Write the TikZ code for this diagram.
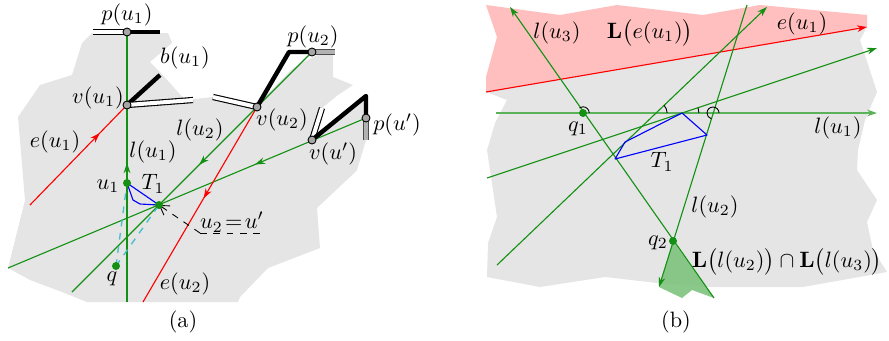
\documentclass[tikz,border=0pt]{standalone}
\usepackage{amsmath}
\usepackage{amssymb}
\usetikzlibrary{arrows.meta,decorations.markings}
\definecolor{lgreen}{RGB}{20,145,20}
\definecolor{dashcyan}{RGB}{70,190,205}

\begin{document}
\begin{tikzpicture}[
  x=0.45pt, y=-0.45pt,
  line join=round,
  ln/.style={lgreen, line width=0.5pt},
  rd/.style={red, line width=0.5pt},
  midarr/.style={postaction={decorate}, decoration={markings,
      mark=at position #1 with {\arrow{Stealth[length=4.5pt,width=3pt]}}}},
  endarr/.style={-{Stealth[length=4.5pt,width=3pt]}},
  wbar/.style={draw=black, line width=0.5pt, double=white, double distance=1.8pt},
  bbar/.style={black, line width=2pt},
  gbar/.style={draw=black!70, line width=0.5pt, double=gray!60, double distance=1.8pt},
  vtx/.style={circle, fill=gray!70, draw=black, line width=0.4pt, inner sep=0pt, minimum size=3.6pt},
  pt/.style={circle, fill=lgreen, inner sep=0pt, minimum size=3.6pt},
  angmark/.style={black, line width=0.4pt}
]
\useasboundingbox (0,0) rectangle (889,340);

% (a)
\fill[gray!20] (92,33) -- (168,33) -- (172,43) -- (150,62) -- (160,72) -- (185,100)
  -- (213,97) -- (257,105) -- (293,68) -- (317,55) -- (333,55) -- (333,77) -- (353,85)
  -- (338,95) -- (322,108) -- (313,140) -- (365,97) -- (366,140) -- (357,170) -- (350,177)
  -- (317,208) -- (320,248) -- (268,268) -- (240,297) -- (238,302) -- (87,302) -- (62,292)
  -- (30,280) -- (8,268) -- (25,200) -- (18,117) -- (40,85) -- (72,75) -- (82,43) -- cycle;

\coordinate (pu1)  at (127,32);
\coordinate (pu1l) at (93,32);
\coordinate (pu1r) at (160,32);
\coordinate (vu1)  at (127,105);
\coordinate (bu1)  at (160,75);
\coordinate (wu1)  at (193,100);
\coordinate (eu1s) at (30,205);
\coordinate (vu2)  at (257,107);
\coordinate (wu2)  at (213,97);
\coordinate (ku2)  at (289,52);
\coordinate (pu2)  at (312,52);
\coordinate (pu2r) at (335,52);
\coordinate (vup)  at (312,140);
\coordinate (wup)  at (322,108);
\coordinate (kup)  at (366,96);
\coordinate (pup)  at (366,118);
\coordinate (pupd) at (366,140);
\coordinate (u1)   at (127,183);
\coordinate (t1)   at (159,205);
\coordinate (t1a)  at (133,200);
\coordinate (t1b)  at (140,204);
\coordinate (q)    at (116,266);
\coordinate (lu1e) at (127,302);
\coordinate (lu1m) at (127,163);
\coordinate (lu2e) at (72,292);
\coordinate (eu2e) at (143,302);
\coordinate (lupe) at (8,268);
\coordinate (dsh)  at (200,233);
\coordinate (dshe) at (265,233);

\draw[ln] (pu1) -- (lu1e);
\draw[lgreen, line width=0.9pt, endarr] (lu1e) -- (lu1m);
\draw[ln, midarr=0.47] (pu2) -- (lu2e);
\draw[ln, midarr=0.31] (pup) -- (lupe);
\draw[rd, midarr=0.72] (eu1s) -- (vu1);
\draw[rd, midarr=0.47] (vu2) -- (eu2e);

\draw[blue, line width=0.5pt] (u1) -- (t1a) -- (t1b) -- (t1) -- cycle;
\draw[dashcyan, dashed, line width=0.6pt] (q) -- (u1);
\draw[dashcyan, dashed, line width=0.6pt] (q) -- (t1);
\draw[dashed, line width=0.4pt, -{Straight Barb[length=4pt,width=5pt]}] (dsh) -- (t1);
\draw[dashed, line width=0.4pt] (dsh) -- (dshe);

\draw[wbar] (pu1l) -- (pu1);
\draw[bbar] (pu1) -- (pu1r);
\draw[bbar] (vu1) -- (bu1);
\draw[wbar] (vu1) -- (wu1);
\draw[wbar] (wu2) -- (vu2);
\draw[bbar] (vu2) -- (ku2) -- (pu2);
\draw[gbar] (pu2) -- (pu2r);
\draw[wbar] (vup) -- (wup);
\draw[bbar] (vup) -- (kup) -- (pup);
\draw[gbar] (pup) -- (pupd);

\node[vtx] (pu1dot) at (pu1) {};
\node[vtx] (vu1dot) at (vu1) {};
\node[vtx] (vu2dot) at (vu2) {};
\node[vtx] (pu2dot) at (pu2) {};
\node[vtx] (vupdot) at (vup) {};
\node[vtx] (pupdot) at (pup) {};
\node[pt] (u1dot) at (u1) {};
\node[pt] (t1dot) at (t1) {};
\node[pt] (qdot) at (q) {};

\node (pu1lbl) at (127,15)  {$p(u_1)$};
\node (bu1lbl) at (185,58)  {$b(u_1)$};
\node (vu1lbl) at (98,98)   {$v(u_1)$};
\node (eu1lbl) at (55,142)  {$e(u_1)$};
\node (lu1lbl) at (153,152) {$l(u_1)$};
\node (lu2lbl) at (200,130) {$l(u_2)$};
\node (pu2lbl) at (313,37)  {$p(u_2)$};
\node (vu2lbl) at (282,120) {$v(u_2)$};
\node (vuplbl) at (333,154) {$v(u')$};
\node (puplbl) at (397,125) {$p(u')$};
\node (u1lbl)  at (108,186) {$u_1$};
\node (t1lbl)  at (153,184) {$T_1$};
\node (u2lbl)  at (232,222) {$u_2\!=\!u'$};
\node (qlbl)   at (112,279) {$q$};
\node (eu2lbl) at (185,284) {$e(u_2)$};
\node (alabel) at (183,322) {(a)};

% (b)
\fill[gray!20] (486,92) -- (867,27) -- (860,40) -- (877,92) -- (865,120) -- (858,150)
  -- (857,170) -- (877,200) -- (867,222) -- (873,250) -- (887,272) -- (803,287)
  -- (710,287) -- (657,283) -- (605,277) -- (540,287) -- (487,277) -- (488,243)
  -- (497,217) -- (487,150) -- (488,147) -- (495,123) -- (507,100) -- cycle;
\fill[red!25] (486,5) -- (560,15) -- (617,5) -- (703,15) -- (760,5) -- (867,15)
  -- (867,27) -- (486,92) -- (486,77) -- (497,37) -- cycle;

\coordinate (be1s) at (486,92);
\coordinate (be1e) at (867,27);
\coordinate (bl1s) at (496,113);
\coordinate (bl1e) at (877,113);
\coordinate (bq1)  at (583,113);
\coordinate (bq2)  at (673,241);
\coordinate (bl3s) at (714,298);
\coordinate (bl3e) at (510,7);
\coordinate (bl2s) at (747,5);
\coordinate (bl2e) at (659,287);
\coordinate (bas)  at (487,178);
\coordinate (bae)  at (877,48);
\coordinate (bbs)  at (497,265);
\coordinate (bbe)  at (767,7);
\coordinate (bx1)  at (656,113);
\coordinate (bx2)  at (682,113);
\coordinate (bx3)  at (713,113);
\coordinate (bt1a) at (625,142);
\coordinate (bt1b) at (682,113);
\coordinate (bt1c) at (707,135);
\coordinate (bt1d) at (615,159);
\coordinate (bga)  at (682,298);
\coordinate (bgb)  at (692,290);

\fill[lgreen!55, opacity=0.9] (bq2) -- (bl2e) -- (bga) -- (bgb) -- (bl3s) -- cycle;
\draw[red, line width=0.5pt, endarr] (be1s) -- (be1e);
\draw[lgreen!70, line width=1.1pt, endarr] (bl1s) -- (bl1e);
\draw[ln, endarr] (bas) -- (bae);
\draw[ln, endarr] (bbs) -- (bbe);
\draw[ln, endarr] (bl3s) -- (bl3e);
\draw[ln, endarr] (bl2s) -- (bl2e);
\draw[blue, line width=0.5pt] (bt1a) -- (bt1b) -- (bt1c) -- (bt1d) -- cycle;

\draw[angmark] (bq1) ++(2.8pt,0) arc[start angle=0, end angle=125, radius=2.8pt];
\draw[angmark] (bx1) ++(5pt,0) arc[start angle=0, end angle=44, radius=5pt];
\draw[angmark] (bx2) ++(7.6pt,0) arc[start angle=0, end angle=18, radius=7.6pt];
\draw[angmark] (bx3) ++(2.7pt,0) arc[start angle=0, end angle=253, radius=2.7pt];

\node[pt] (bq1dot) at (bq1) {};
\node[pt] (bq2dot) at (bq2) {};

\node (bl3lbl) at (557,33)  {$l(u_3)$};
\node (bLelbl) at (650,33)  {$\mathbf{L}\big(e(u_1)\big)$};
\node (be1lbl) at (802,24)  {$e(u_1)$};
\node (bl1lbl) at (838,128) {$l(u_1)$};
\node (bq1lbl) at (578,129) {$q_1$};
\node (bt1lbl) at (662,162) {$T_1$};
\node (bl2lbl) at (715,207) {$l(u_2)$};
\node (bq2lbl) at (658,243) {$q_2$};
\node (bLLlbl) at (787,262) {$\mathbf{L}\big(l(u_2)\big)\cap\mathbf{L}\big(l(u_3)\big)$};
\node (blabel) at (676,322) {(b)};
\end{tikzpicture}
\end{document}
